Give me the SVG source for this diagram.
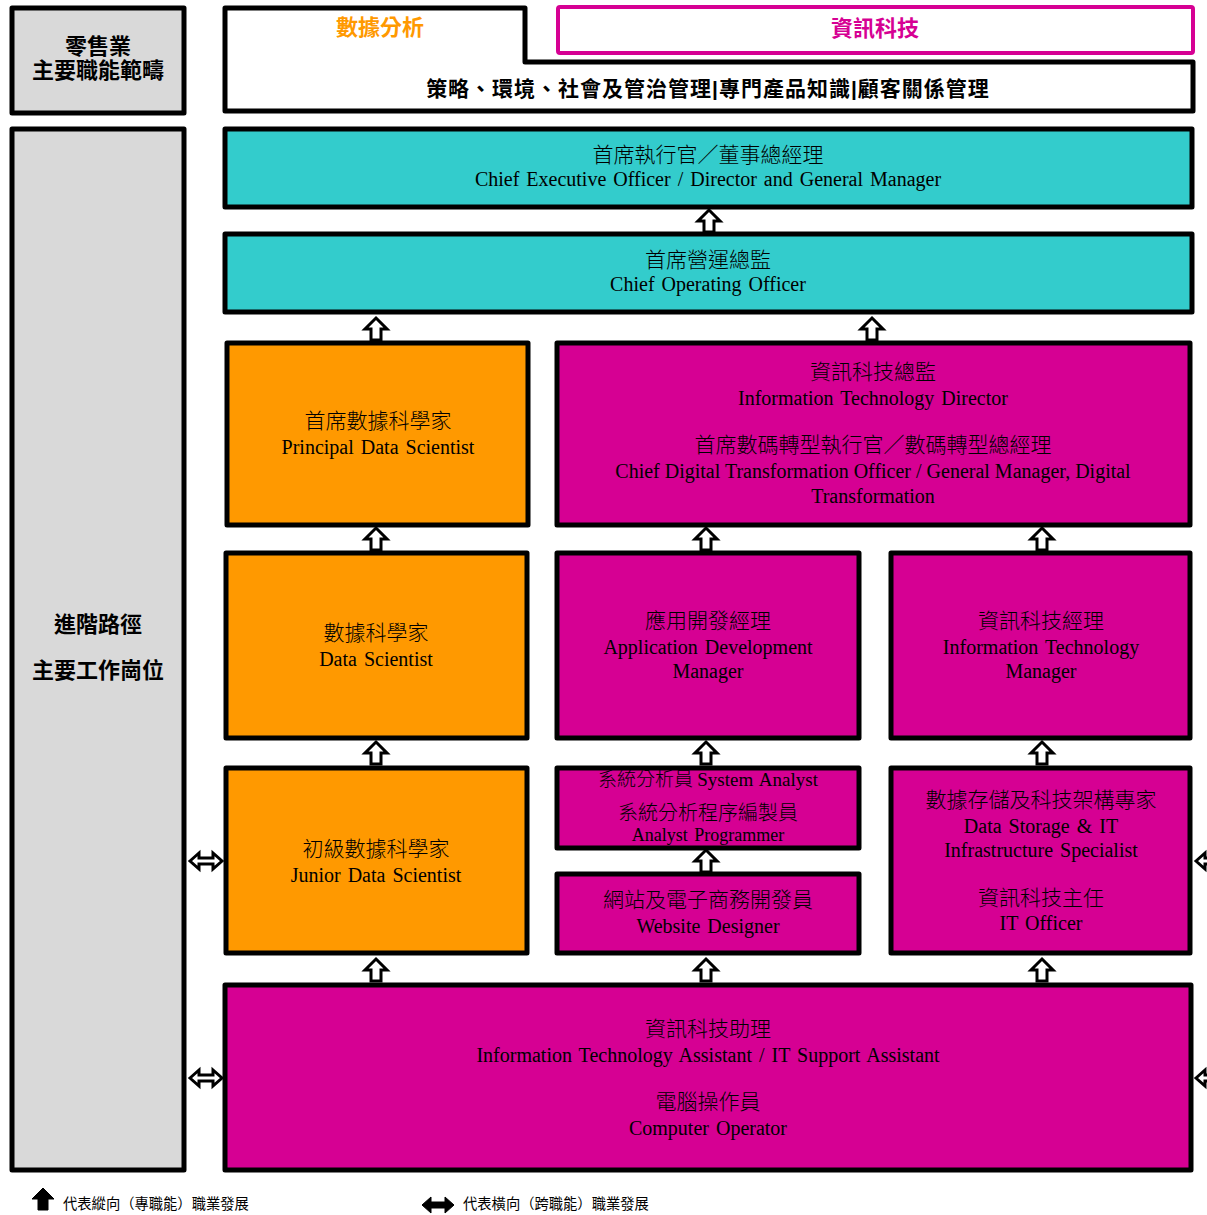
<svg xmlns="http://www.w3.org/2000/svg" xmlns:xlink="http://www.w3.org/1999/xlink" width="1207" height="1215" viewBox="0 0 1207 1215">
<style>
.box{stroke:#000;stroke-width:5;stroke-linejoin:round}
.gray{fill:#D9D9D9}
.teal{fill:#33CCCC}
.org{fill:#FF9900}
.mag{fill:#D60093}
.hd{font-family:"Liberation Sans","Noto Sans CJK TC",sans-serif;font-weight:bold;font-size:22px;text-anchor:middle}
.zh{font-family:"Noto Sans CJK TC",sans-serif;font-size:21px;font-weight:300;text-anchor:middle;fill:#000}
.en{font-family:"Liberation Serif","Noto Sans CJK TC",serif;font-size:20px;word-spacing:2px;text-anchor:middle;fill:#000}
.lg{font-family:"Noto Sans CJK TC",sans-serif;font-size:14.3px;fill:#000}
.arr{fill:#fff;stroke:#000;stroke-width:3;stroke-linejoin:miter}
</style>
<defs>
<path id="up" d="M0,-11 L11,0 L5,0 L5,11 L-5,11 L-5,0 L-11,0 Z"/>
<path id="dbl" d="M-16,0 L-7,-8 L-7,-3 L7,-3 L7,-8 L16,0 L7,8 L7,3 L-7,3 L-7,8 Z"/>
</defs>

<g id="header-left">
<rect class="box gray" x="12" y="8" width="172" height="105"/>
<text class="hd" x="98" y="54">零售業</text>
<text class="hd" x="98" y="78">主要職能範疇</text>
</g>
<g id="header-main">
<path d="M225,8 L525,8 L525,62 L1193,62 L1193,111 L225,111 Z" fill="#fff" stroke="#000" stroke-width="5" stroke-linejoin="round"/>
<text class="hd" x="380" y="35" fill="#FF9900">數據分析</text>
<text class="hd" x="708" y="96" style="font-size:21px;letter-spacing:1px">策略、環境、社會及管治管理|專門產品知識|顧客關係管理</text>
</g>
<g id="header-it">
<rect x="558" y="7" width="635" height="46" fill="#fff" stroke="#D60093" stroke-width="4" rx="2"/>
<text class="hd" x="875" y="36" fill="#D60093">資訊科技</text>
</g>
<g id="path-label">
<rect class="box gray" x="12" y="129" width="172" height="1041"/>
<text class="hd" x="98" y="632">進階路徑</text>
<text class="hd" x="98" y="678">主要工作崗位</text>
</g>

<g id="ceo">
<rect class="box teal" x="225" y="129" width="967" height="78"/>
<text class="zh" x="708" y="162">首席執行官／董事總經理</text>
<text class="en" x="708" y="186">Chief Executive Officer / Director and General Manager</text>
</g>
<g id="coo">
<rect class="box teal" x="225" y="234" width="967" height="78"/>
<text class="zh" x="708" y="267">首席營運總監</text>
<text class="en" x="708" y="291">Chief Operating Officer</text>
</g>
<g id="pds">
<rect class="box org" x="227" y="343" width="301" height="182"/>
<text class="zh" x="378" y="428">首席數據科學家</text>
<text class="en" x="378" y="454">Principal Data Scientist</text>
</g>
<g id="itd">
<rect class="box mag" x="557" y="343" width="633" height="182"/>
<text class="zh" x="873" y="379">資訊科技總監</text>
<text class="en" x="873" y="405">Information Technology Director</text>
<text class="zh" x="873" y="452">首席數碼轉型執行官／數碼轉型總經理</text>
<text class="en" x="873" y="478" style="word-spacing:0">Chief Digital Transformation Officer / General Manager, Digital</text>
<text class="en" x="873" y="503">Transformation</text>
</g>
<g id="ds">
<rect class="box org" x="226" y="553" width="301" height="185"/>
<text class="zh" x="376" y="640">數據科學家</text>
<text class="en" x="376" y="666">Data Scientist</text>
</g>
<g id="adm">
<rect class="box mag" x="557" y="553" width="302" height="185"/>
<text class="zh" x="708" y="628">應用開發經理</text>
<text class="en" x="708" y="654">Application Development</text>
<text class="en" x="708" y="678">Manager</text>
</g>
<g id="itm">
<rect class="box mag" x="891" y="553" width="299" height="185"/>
<text class="zh" x="1041" y="628">資訊科技經理</text>
<text class="en" x="1041" y="654">Information Technology</text>
<text class="en" x="1041" y="678">Manager</text>
</g>
<g id="jds">
<rect class="box org" x="226" y="768" width="301" height="185"/>
<text class="zh" x="376" y="856">初級數據科學家</text>
<text class="en" x="376" y="882">Junior Data Scientist</text>
</g>
<g id="sa">
<rect class="box mag" x="557" y="768" width="302" height="80"/>
<text class="zh" x="708" y="786" style="font-size:19px">系統分析員 <tspan class="en" style="text-anchor:start;font-size:19px">System Analyst</tspan></text>
<text class="zh" x="708" y="820" style="font-size:20px">系統分析程序編製員</text>
<text class="en" x="708" y="841" style="font-size:18px">Analyst  Programmer</text>
</g>
<g id="web">
<rect class="box mag" x="557" y="874" width="302" height="79"/>
<text class="zh" x="708" y="907">網站及電子商務開發員</text>
<text class="en" x="708" y="933">Website Designer</text>
</g>
<g id="dsis">
<rect class="box mag" x="891" y="768" width="299" height="185"/>
<text class="zh" x="1041" y="807">數據存儲及科技架構專家</text>
<text class="en" x="1041" y="833">Data Storage &amp; IT</text>
<text class="en" x="1041" y="857">Infrastructure Specialist</text>
<text class="zh" x="1041" y="905">資訊科技主任</text>
<text class="en" x="1041" y="930">IT Officer</text>
</g>
<g id="ita">
<rect class="box mag" x="225" y="985" width="966" height="185"/>
<text class="zh" x="708" y="1036">資訊科技助理</text>
<text class="en" x="708" y="1062">Information Technology Assistant / IT Support Assistant</text>
<text class="zh" x="708" y="1109">電腦操作員</text>
<text class="en" x="708" y="1135">Computer Operator</text>
</g>

<g id="connectors" class="arr">
<use xlink:href="#up" x="709" y="221"/>
<use xlink:href="#up" x="376" y="329"/>
<use xlink:href="#up" x="872" y="329"/>
<use xlink:href="#up" x="376" y="539"/>
<use xlink:href="#up" x="706" y="539"/>
<use xlink:href="#up" x="1042" y="539"/>
<use xlink:href="#up" x="376" y="753"/>
<use xlink:href="#up" x="706" y="753"/>
<use xlink:href="#up" x="1042" y="753"/>
<use xlink:href="#up" x="706" y="861"/>
<use xlink:href="#up" x="376" y="970"/>
<use xlink:href="#up" x="706" y="970"/>
<use xlink:href="#up" x="1042" y="970"/>
<use xlink:href="#dbl" x="206" y="861"/>
<use xlink:href="#dbl" x="206" y="1078"/>
<use xlink:href="#dbl" x="1212" y="861"/>
<use xlink:href="#dbl" x="1212" y="1078"/>
</g>

<g id="legend">
<use xlink:href="#up" x="43" y="1199" fill="#000" stroke="#000" stroke-width="1"/>
<text class="lg" x="63" y="1209">代表縱向（專職能）職業發展</text>
<use xlink:href="#dbl" x="438" y="1205" fill="#000" stroke="#000" stroke-width="1"/>
<text class="lg" x="463" y="1209">代表橫向（跨職能）職業發展</text>
</g>
</svg>
